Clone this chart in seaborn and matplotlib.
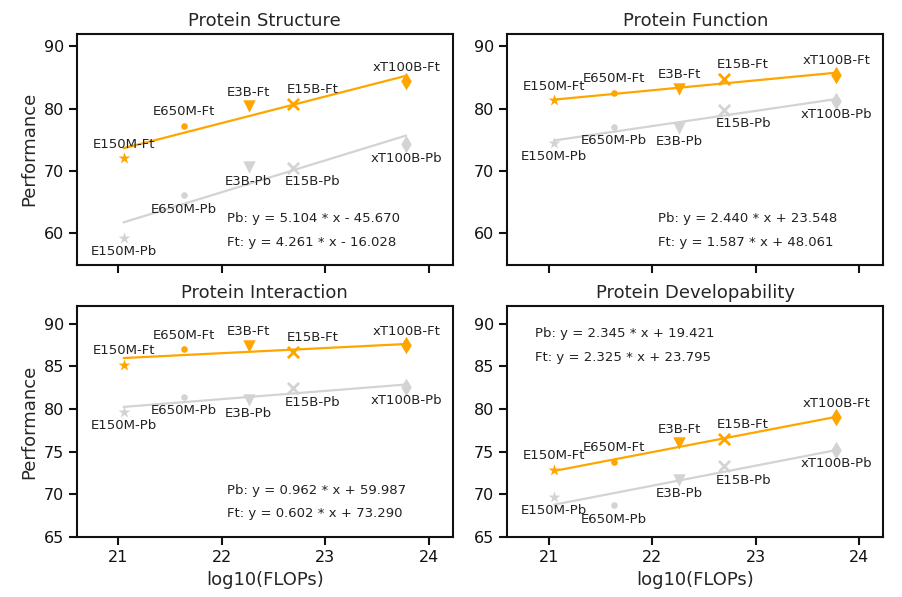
import numpy as np
import pandas as pd
import matplotlib
matplotlib.use("Agg")
import matplotlib.pyplot as plt
import seaborn as sns

# model sizes and their compute (log10 FLOPs)
models = ["E150M", "E650M", "E3B", "E15B", "xT100B"]
flops = [21.05, 21.63, 22.26, 22.69, 23.78]
markers = ["*", ".", "v", "x", "d"]

tasks = ["Protein Structure", "Protein Function", "Protein Interaction", "Protein Developability"]

# fine-tuned (Ft) and probing (Pb) scores per task
ft_structure = [72.1, 77.3, 80.4, 80.8, 84.4]
pb_structure = [59.3, 66.1, 70.6, 70.5, 74.3]
ft_function = [81.4, 82.6, 83.2, 84.8, 85.5]
pb_function = [74.5, 77.1, 76.9, 79.8, 81.3]
ft_interaction = [85.2, 87.0, 87.4, 86.7, 87.5]
pb_interaction = [79.7, 81.4, 81.1, 82.4, 82.6]
ft_develop = [72.9, 73.8, 76.0, 76.5, 79.0]
pb_develop = [69.7, 68.7, 71.7, 73.3, 75.2]

# fitted lines (slope, intercept) as printed on the chart
pb_fit = [(5.104, -45.670), (2.440, 23.548), (0.962, 59.987), (2.345, 19.421)]
ft_fit = [(4.261, -16.028), (1.587, 48.061), (0.602, 73.290), (2.325, 23.795)]

ft_all = [ft_structure, ft_function, ft_interaction, ft_develop]
pb_all = [pb_structure, pb_function, pb_interaction, pb_develop]

sns.set_style("ticks")
plt.rcParams["font.family"] = ["DejaVu Sans"]
plt.rcParams["axes.linewidth"] = 1.5
plt.rcParams["xtick.major.width"] = 1.5
plt.rcParams["ytick.major.width"] = 1.5
plt.rcParams["xtick.major.size"] = 6
plt.rcParams["ytick.major.size"] = 6
plt.rcParams["axes.edgecolor"] = "#111111"
plt.rcParams["xtick.color"] = "#111111"
plt.rcParams["ytick.color"] = "#111111"

FT_C = "#FFA500"
PB_C = "#D3D3D3"

fig, axes = plt.subplots(2, 2, figsize=(9.02, 5.97), dpi=100, sharex=True)
fig.subplots_adjust(left=0.0854, right=0.979, top=0.943, bottom=0.1005,
                    wspace=0.146, hspace=0.182)


def fmt_eq(tag, a, b):
    sign = "-" if b < 0 else "+"
    return f"{tag}: y = {a:.3f} * x {sign} {abs(b):.3f}"


for i, ax in enumerate(axes.flat):
    x = np.array(flops)
    for vals, fit, col, tag, dy in [(pb_all[i], pb_fit[i], PB_C, "Pb", -10),
                                    (ft_all[i], ft_fit[i], FT_C, "Ft", 10)]:
        a, b = fit
        sns.lineplot(x=x, y=a * x + b, color=col, lw=1.6, ax=ax)
        df = pd.DataFrame({"model": models, "flops": flops, "score": vals})
        for m, mk in zip(models, markers):
            sub = df[df.model == m]
            if mk == "x":
                sns.scatterplot(data=sub, x="flops", y="score", marker=mk, color=col,
                                s=65, linewidth=2, ax=ax, zorder=3)
            else:
                sns.scatterplot(data=sub, x="flops", y="score", marker=mk, color=col,
                                s=80 if mk != "." else 90, edgecolor=col, linewidth=0,
                                ax=ax, zorder=3)
            dx = 14 if m == "E15B" else 0
            ax.annotate(f"{m}-{tag}", (sub.flops.iloc[0], sub.score.iloc[0]),
                        xytext=(dx, dy), textcoords="offset points",
                        ha="center", va="center", fontsize=9.5, color="#222222")

    if i == 3:
        ex, ey1, ey2 = 0.074, 0.882, 0.78
    elif i == 2:
        ex, ey1, ey2 = 0.40, 0.20, 0.104
    else:
        ex, ey1, ey2 = 0.40, 0.20, 0.097
    ax.text(ex, ey1, fmt_eq("Pb", *pb_fit[i]), transform=ax.transAxes,
            ha="left", va="center", fontsize=9.5, color="#222222")
    ax.text(ex, ey2, fmt_eq("Ft", *ft_fit[i]), transform=ax.transAxes,
            ha="left", va="center", fontsize=9.5, color="#222222")

    ax.set_title(tasks[i], fontsize=13)
    ax.set_xlim(20.6, 24.23)
    if i < 2:
        ax.set_ylim(55, 92)
        ax.set_yticks([60, 70, 80, 90])
    else:
        ax.set_ylim(65, 92)
        ax.set_yticks([65, 70, 75, 80, 85, 90])
    ax.set_xticks([21, 22, 23, 24])
    ax.tick_params(labelsize=11.5)
    ax.set_xlabel("log10(FLOPs)" if i >= 2 else "", fontsize=13)
    ax.set_ylabel("Performance" if i % 2 == 0 else "", fontsize=13)

plt.savefig("out.png", dpi=100)
